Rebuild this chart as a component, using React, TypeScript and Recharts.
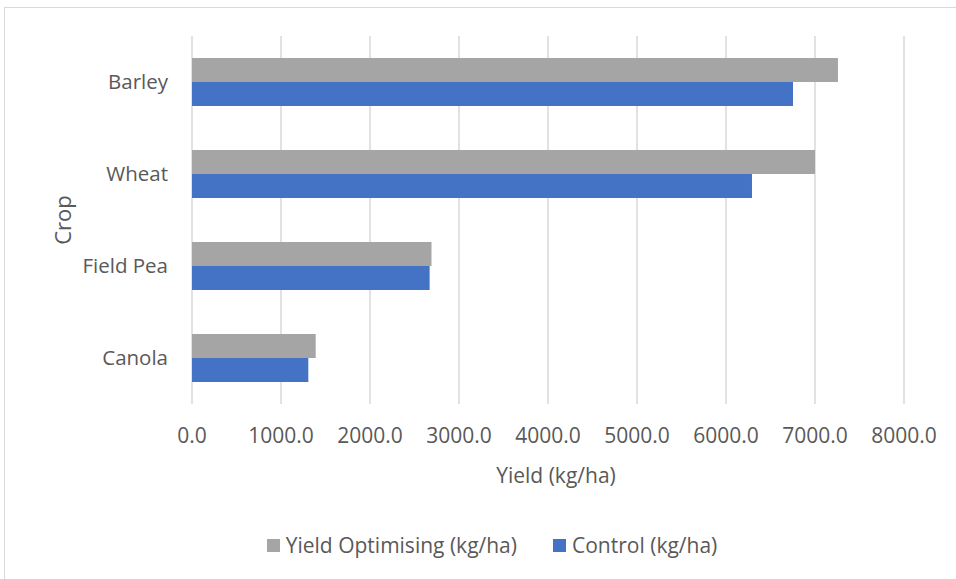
import React from "react";
import { BarChart, Bar, XAxis, YAxis, CartesianGrid, Legend, Label } from "recharts";

const crops = ["Barley", "Wheat", "Field Pea", "Canola"];
const yieldOptimising = [7258, 7000, 2691, 1390];
const control = [6753, 6292, 2670, 1307];
const xTicks = [0, 1000, 2000, 3000, 4000, 5000, 6000, 7000, 8000];

const seriesNames = ["Yield Optimising (kg/ha)", "Control (kg/ha)"];
const seriesColors = ["#A5A5A5", "#4472C4"];

const data = crops.map((c, i) => ({
  crop: c,
  opt: yieldOptimising[i],
  ctrl: control[i],
}));

const FONT = "'Open Sans', sans-serif";
const TEXT = "#595959";

const LegendContent = () => (
  <div
    style={{
      display: "flex",
      justifyContent: "center",
      alignItems: "center",
      fontFamily: FONT,
      fontSize: 21,
      color: TEXT,
      lineHeight: "28px",
    }}
  >
    {seriesNames.map((n, i) => (
      <div key={n} style={{ display: "flex", alignItems: "center", marginRight: i === 0 ? 36 : 0 }}>
        <span style={{ display: "inline-block", width: 13, height: 13, background: seriesColors[i], marginRight: 6 }} />
        <span>{n}</span>
      </div>
    ))}
  </div>
);

export default function App() {
  return (
    <div style={{ position: "absolute", left: 0, top: 0, width: 956, height: 579, overflow: "hidden", background: "#fff" }}>
      <div
        style={{
          position: "absolute",
          left: 4,
          top: 7,
          width: 1000,
          height: 600,
          border: "1px solid #d9d9d9",
          boxSizing: "border-box",
        }}
      />
      <div style={{ position: "absolute", left: 0, top: 0 }}>
        <BarChart
          width={956}
          height={579}
          data={data}
          layout="vertical"
          margin={{ top: 36, right: 52, bottom: 145, left: 4 }}
          barCategoryGap={22}
          barGap={0}
        >
          <CartesianGrid horizontal={false} vertical={true} stroke="#d9d9d9" strokeWidth={1.5} />
          <XAxis
            type="number"
            domain={[0, 8000]}
            ticks={xTicks}
            tickFormatter={(v: number) => v.toFixed(1)}
            axisLine={false}
            tickLine={false}
            tickSize={0}
            tickMargin={24}
            height={30}
            tick={{ fill: TEXT, fontSize: 21, fontFamily: FONT }}
            interval={0}
          >
            <Label
              value="Yield (kg/ha)"
              position="insideTop"
              offset={64}
              dx={8}
              style={{ fill: TEXT, fontSize: 21, fontFamily: FONT }}
            />
          </XAxis>
          <YAxis
            type="category"
            dataKey="crop"
            width={188}
            axisLine={false}
            tickLine={false}
            tickSize={0}
            tickMargin={24}
            tick={{ fill: TEXT, fontSize: 20.5, fontFamily: FONT }}
          >
            <Label
              value="Crop"
              angle={-90}
              position="insideLeft"
              offset={59}
              style={{ fill: TEXT, fontSize: 22, fontFamily: FONT, textAnchor: "middle" }}
            />
          </YAxis>
          <Legend
            layout="horizontal"
            verticalAlign="middle"
            align="center"
            wrapperStyle={{ top: 531, left: 14, width: 956 }}
            content={() => <LegendContent />}
          />
          <Bar dataKey="opt" name={seriesNames[0]} fill={seriesColors[0]} isAnimationActive={false} />
          <Bar dataKey="ctrl" name={seriesNames[1]} fill={seriesColors[1]} isAnimationActive={false} />
        </BarChart>
      </div>
    </div>
  );
}
